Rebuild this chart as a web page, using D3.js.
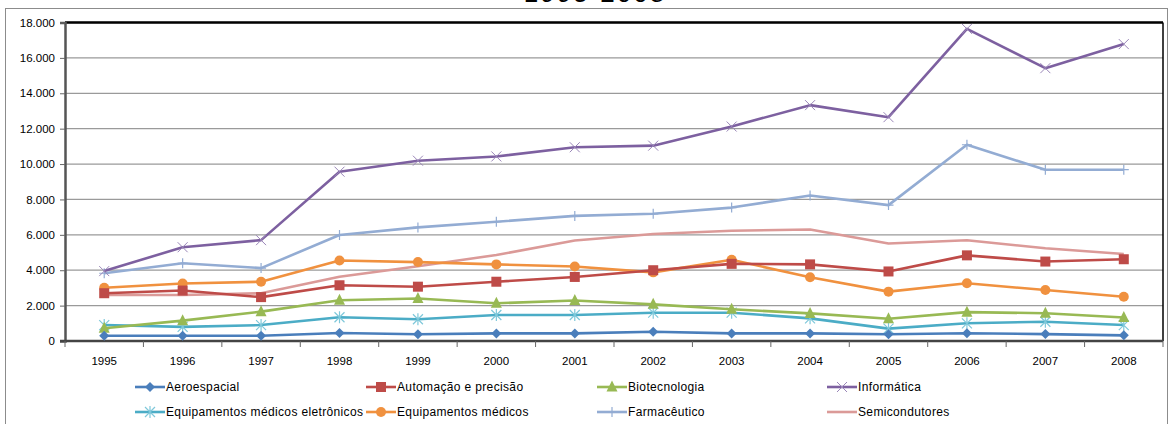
<!DOCTYPE html>
<html>
<head>
<meta charset="utf-8">
<script src="https://cdn.jsdelivr.net/npm/d3@7"></script>
<style>
  body { margin: 0; background: #fff; }
  text { font-family: "Liberation Sans", "DejaVu Sans", sans-serif; fill: #000; }
</style>
</head>
<body>
<div id="chart"></div>
<script>
//DATA--------------------
var years = ["1995","1996","1997","1998","1999","2000","2001","2002","2003","2004","2005","2006","2007","2008"];
var yTicks = [0, 2000, 4000, 6000, 8000, 10000, 12000, 14000, 16000, 18000];

var aeroespacial = [300, 300, 300, 450, 380, 430, 430, 520, 430, 430, 380, 440, 390, 320];
var automacao = [2700, 2850, 2480, 3150, 3070, 3350, 3620, 4000, 4360, 4330, 3930, 4840, 4490, 4620];
var biotecnologia = [720, 1150, 1660, 2300, 2400, 2130, 2290, 2070, 1790, 1560, 1260, 1630, 1570, 1330];
var informatica = [3950, 5300, 5700, 9570, 10190, 10430, 10950, 11040, 12120, 13330, 12650, 17640, 15420, 16780];
var eqEletronicos = [900, 800, 900, 1340, 1230, 1470, 1470, 1600, 1600, 1280, 700, 1000, 1090, 900];
var eqMedicos = [3010, 3250, 3350, 4550, 4460, 4330, 4210, 3880, 4590, 3600, 2790, 3260, 2880, 2500];
var farmaceutico = [3830, 4390, 4120, 5990, 6420, 6740, 7070, 7190, 7540, 8220, 7680, 11090, 9680, 9680];
var semicondutores = [2600, 2600, 2700, 3630, 4220, 4860, 5680, 6050, 6230, 6300, 5510, 5690, 5240, 4920];

var seriesNames = ["Aeroespacial", "Automação e precisão", "Biotecnologia", "Informática",
  "Equipamentos médicos eletrônicos", "Equipamentos médicos", "Farmacêutico", "Semicondutores"];
var seriesValues = [aeroespacial, automacao, biotecnologia, informatica, eqEletronicos, eqMedicos, farmaceutico, semicondutores];
var seriesColors = ["#4A7EBB", "#BE4B48", "#98B954", "#7D60A0", "#4BACC6", "#F0913F", "#93ACD3", "#DB9A98"];
var seriesMarkers = ["diamond", "square", "triangle", "x", "star", "circle", "plus", "none"];

//SET BOUNDARIES--------------------
var svgWidth = 1169;
var svgHeight = 424;
var margin = { top: 22.5, left: 65, right: 6, bottom: 83 };
var width = svgWidth - margin.left - margin.right;
var height = svgHeight - margin.top - margin.bottom;

var svg = d3.select("#chart").append("svg")
  .attr("width", svgWidth)
  .attr("height", svgHeight);

// outer chart frame
svg.append("rect")
  .attr("x", 5.5).attr("y", 8.5)
  .attr("width", 1162).attr("height", 430)
  .attr("fill", "none").attr("stroke", "#8c8c8c").attr("stroke-width", 1);

// title, cut off at the top like the reference
svg.append("text")
  .attr("x", 595).attr("y", 2)
  .attr("text-anchor", "middle")
  .attr("font-size", 26)
  .attr("letter-spacing", 2)
  .text("1995-2008");

var plot = svg.append("g")
  .attr("transform", `translate(${margin.left}, ${margin.top})`);

//SCALES--------------------
var xScale = d3.scaleBand().domain(years).range([0, width]);
var yScale = d3.scaleLinear().domain([0, 18000]).range([height, 0]);
var xMid = d => xScale(d) + xScale.bandwidth() / 2;

// gridlines
plot.append("g")
  .selectAll("line")
  .data(yTicks.slice(1))
  .enter()
  .append("line")
  .attr("x1", 0).attr("x2", width)
  .attr("y1", d => yScale(d)).attr("y2", d => yScale(d))
  .attr("stroke", "#9a9a9a").attr("stroke-width", 1.3);

// plot frame: thick top, right
plot.append("line")
  .attr("x1", 0).attr("x2", width).attr("y1", 0).attr("y2", 0)
  .attr("stroke", "#000").attr("stroke-width", 2.5);
plot.append("line")
  .attr("x1", width).attr("x2", width).attr("y1", 0).attr("y2", height)
  .attr("stroke", "#000").attr("stroke-width", 1.5);

// y axis
var leftAxis = d3.axisLeft(yScale)
  .tickValues(yTicks)
  .tickSize(5)
  .tickPadding(5)
  .tickFormat(d => d === 0 ? "0" : d3.format(",")(d).replace(/,/g, "."));
var yAxis = plot.append("g").call(leftAxis);
yAxis.select(".domain").attr("stroke", "#555").attr("stroke-width", 2.5);
yAxis.selectAll(".tick line").attr("stroke", "#666");
yAxis.selectAll("text").attr("font-size", 11.5).attr("fill", "#000");

// x axis: ticks between categories
var xAxis = plot.append("g").attr("transform", `translate(0, ${height})`);
xAxis.append("line")
  .attr("x1", -5).attr("x2", width).attr("y1", 0).attr("y2", 0)
  .attr("stroke", "#444").attr("stroke-width", 2.5);
xAxis.selectAll("line.tk")
  .data(d3.range(years.length + 1))
  .enter()
  .append("line")
  .attr("class", "tk")
  .attr("x1", i => i * xScale.bandwidth()).attr("x2", i => i * xScale.bandwidth())
  .attr("y1", 0).attr("y2", 6)
  .attr("stroke", "#666");
xAxis.selectAll("text")
  .data(years)
  .enter()
  .append("text")
  .attr("x", d => xMid(d))
  .attr("y", 24)
  .attr("text-anchor", "middle")
  .attr("font-size", 11.5)
  .text(d => d);

//MARKERS--------------------
function drawMarker(g, type, color, size) {
  var s = size;
  if (type === "diamond") {
    g.append("path").attr("d", `M0,${-s}L${s},0L0,${s}L${-s},0Z`).attr("fill", color);
  } else if (type === "square") {
    g.append("rect").attr("x", -s + 0.5).attr("y", -s + 0.5).attr("width", 2 * s - 1).attr("height", 2 * s - 1)
      .attr("fill", color);
  } else if (type === "triangle") {
    g.append("path").attr("d", `M0,${-s - 1}L${s},${s - 1}L${-s},${s - 1}Z`).attr("fill", color);
  } else if (type === "circle") {
    g.append("circle").attr("r", s).attr("fill", color);
  } else if (type === "x") {
    g.append("path").attr("d", `M${-s},${-s}L${s},${s}M${-s},${s}L${s},${-s}`)
      .attr("stroke", color).attr("stroke-width", 1).attr("fill", "none");
  } else if (type === "star") {
    g.append("path").attr("d", `M${-s},${-s}L${s},${s}M${-s},${s}L${s},${-s}M0,${-s - 1}L0,${s + 1}`)
      .attr("stroke", color).attr("stroke-width", 1.2).attr("fill", "none");
  } else if (type === "plus") {
    g.append("path").attr("d", `M0,${-s}L0,${s}M${-s},0L${s},0`)
      .attr("stroke", color).attr("stroke-width", 1.2).attr("fill", "none");
  }
}

var markerSize = { diamond: 5, square: 5.5, triangle: 5.5, circle: 5, x: 5, star: 5, plus: 5, none: 0 };
var markerDraw = { x: "#9A86B8", star: "#7FC8DA", plus: "#93ACD3" };

//LINES--------------------
var line = d3.line()
  .x((d, i) => xMid(years[i]))
  .y(d => yScale(d));

// draw in reverse so the first series ends on top
var order = [7, 6, 5, 4, 3, 2, 1, 0];
order.forEach(function(k) {
  var g = plot.append("g");
  g.append("path")
    .datum(seriesValues[k])
    .attr("d", line)
    .attr("fill", "none")
    .attr("stroke", seriesColors[k])
    .attr("stroke-width", 2.6)
    .attr("stroke-linejoin", "round");
  if (seriesMarkers[k] !== "none") {
    seriesValues[k].forEach(function(v, i) {
      var m = g.append("g").attr("transform", `translate(${xMid(years[i])}, ${yScale(v)})`);
      drawMarker(m, seriesMarkers[k], markerDraw[seriesMarkers[k]] || seriesColors[k], markerSize[seriesMarkers[k]]);
    });
  }
});

//LEGEND--------------------
var legendX = [135, 366, 597, 827];
var legendY = [387, 412];
seriesNames.forEach(function(name, k) {
  var lx = legendX[k % 4];
  var ly = legendY[Math.floor(k / 4)];
  var g = svg.append("g");
  g.append("line")
    .attr("x1", lx).attr("x2", lx + 30).attr("y1", ly).attr("y2", ly)
    .attr("stroke", seriesColors[k]).attr("stroke-width", 2.6);
  if (seriesMarkers[k] !== "none") {
    var m = g.append("g").attr("transform", `translate(${lx + 15}, ${ly})`);
    drawMarker(m, seriesMarkers[k], markerDraw[seriesMarkers[k]] || seriesColors[k], markerSize[seriesMarkers[k]]);
  }
  g.append("text")
    .attr("x", lx + 31).attr("y", ly + 4)
    .attr("font-size", 12)
    .attr("letter-spacing", 0.35)
    .text(name);
});
</script>
</body>
</html>
